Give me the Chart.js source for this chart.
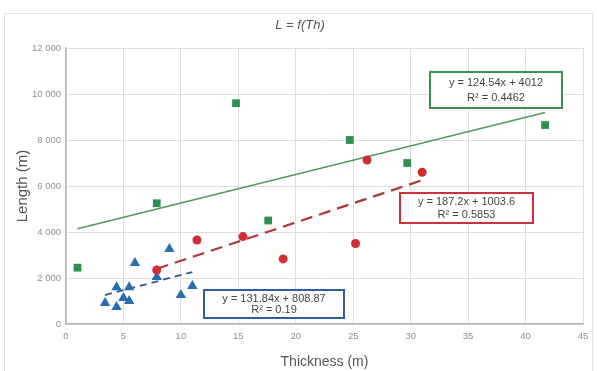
<!DOCTYPE html>
<html>
<head>
<meta charset="utf-8">
<script src="https://cdn.jsdelivr.net/npm/chart.js@4/dist/chart.umd.min.js"></script>
<style>
    body { margin: 0; background: #fff; }
    #wrap { position: relative; width: 597px; height: 371px; }
</style>
</head>
<body>
<div id="wrap"><canvas id="chart" width="597" height="371"></canvas></div>
<script>
// valeurs
const greenX = [1.0, 7.9, 14.8, 17.6, 24.7, 29.7, 41.7];
const greenY = [2450, 5250, 9600, 4500, 8000, 7000, 8650];

const redX = [7.9, 11.4, 15.4, 18.9, 25.2, 26.2, 31.0];
const redY = [2350, 3650, 3800, 2830, 3500, 7130, 6600];

const blueX = [3.4, 4.4, 4.4, 5.0, 5.5, 5.5, 6.0, 7.9, 9.0, 10.0, 11.0];
const blueY = [910, 1600, 740, 1130, 1600, 1000, 2650, 2040, 3260, 1260, 1650];

// tendances (extrémités)
const greenTrendX = [1.0, 41.7];
const greenTrendY = [4140, 9200];
const redTrendX = [7.9, 31.0];
const redTrendY = [2400, 6250];
const blueTrendX = [3.4, 11.0];
const blueTrendY = [1260, 2260];

const xTicks = [0, 5, 10, 15, 20, 25, 30, 35, 40, 45];
const yTicks = [0, 2000, 4000, 6000, 8000, 10000, 12000];

const equations = [
    { lines: ['y = 124.54x + 4012', 'R\u00b2 = 0.4462'], color: '#3f8f4f', box: [430, 72, 132, 36] },
    { lines: ['y = 187.2x + 1003.6', 'R\u00b2 = 0.5853'], color: '#c8323c', box: [400, 193, 133, 30] },
    { lines: ['y = 131.84x + 808.87', 'R\u00b2 = 0.19'], color: '#2c5f9c', box: [204, 290, 140, 28] }
];

function pts(xs, ys) {
    return xs.map((x, i) => ({ x: x, y: ys[i] }));
}

function fmtThousands(v) {
    return String(v).replace(/\B(?=(\d{3})+(?!\d))/g, ' ');
}

const GREEN = '#2f8f4e';
const RED = '#cf2f33';
const BLUE = '#2a6db0';
const FONT = '"Liberation Sans", Arial, sans-serif';

// cadre + titre + étiquettes d'équation
const extras = {
    id: 'extras',
    beforeDraw(chart) {
        const ctx = chart.ctx;
        ctx.save();
        ctx.strokeStyle = '#e4e4e4';
        ctx.lineWidth = 1;
        ctx.strokeRect(4.5, 13.5, 588, 370);
        ctx.restore();
    },
    afterDraw(chart) {
        const ctx = chart.ctx;
        ctx.save();
        ctx.fillStyle = '#555';
        ctx.font = 'italic 13px ' + FONT;
        ctx.textAlign = 'center';
        ctx.textBaseline = 'middle';
        ctx.fillText('L = f(Th)', 300, 25);

        equations.forEach(function (eq) {
            const b = eq.box;
            ctx.fillStyle = '#fff';
            ctx.fillRect(b[0], b[1], b[2], b[3]);
            ctx.strokeStyle = eq.color;
            ctx.lineWidth = 2;
            ctx.strokeRect(b[0], b[1], b[2], b[3]);
            ctx.fillStyle = '#444';
            ctx.font = '11px ' + FONT;
            const cx = b[0] + b[2] / 2;
            const step = b[3] / 2;
            ctx.fillText(eq.lines[0], cx, b[1] + step * 0.55 + 1);
            ctx.fillText(eq.lines[1], cx, b[1] + step * 1.45);
        });
        ctx.restore();
    }
};

const ctx = document.getElementById('chart').getContext('2d');
const myChart = new Chart(ctx, {
    type: 'scatter',
    data: {
        datasets: [
            {
                label: 'trend green',
                data: pts(greenTrendX, greenTrendY),
                showLine: true,
                borderColor: '#4f9a5a',
                borderWidth: 1.5,
                pointRadius: 0,
                order: 5
            },
            {
                label: 'trend red',
                data: pts(redTrendX, redTrendY),
                showLine: true,
                borderColor: '#b0363f',
                borderWidth: 2.2,
                borderDash: [12, 7],
                pointRadius: 0,
                order: 5
            },
            {
                label: 'trend blue',
                data: pts(blueTrendX, blueTrendY),
                showLine: true,
                borderColor: '#2f5a85',
                borderWidth: 1.8,
                borderDash: [7, 5],
                pointRadius: 0,
                order: 5
            },
            {
                label: 'green',
                data: pts(greenX, greenY),
                pointStyle: 'rect',
                pointRadius: 5.5,
                backgroundColor: GREEN,
                borderColor: GREEN,
                borderWidth: 0,
                order: 1
            },
            {
                label: 'red',
                data: pts(redX, redY),
                pointStyle: 'circle',
                pointRadius: 4.5,
                backgroundColor: RED,
                borderColor: RED,
                borderWidth: 0,
                order: 1
            },
            {
                label: 'blue',
                data: pts(blueX, blueY),
                pointStyle: 'triangle',
                pointRadius: 6,
                backgroundColor: BLUE,
                borderColor: BLUE,
                borderWidth: 0,
                order: 1
            }
        ]
    },
    options: {
        responsive: false,
        animation: false,
        layout: {
            padding: { top: 48, right: 14, left: 0, bottom: 0 }
        },
        scales: {
            x: {
                type: 'linear',
                min: 0,
                max: 45,
                afterBuildTicks: function (scale) {
                    scale.ticks = xTicks.map(v => ({ value: v }));
                },
                afterFit: function (scale) {
                    scale.height = 47;
                },
                grid: {
                    color: '#dedede',
                    lineWidth: 1,
                    drawTicks: false
                },
                border: { color: '#b5b5b5', width: 1.5 },
                ticks: {
                    padding: 7,
                    color: '#8f8f8f',
                    font: { size: 9.5, family: FONT },
                    maxRotation: 0
                },
                title: {
                    display: true,
                    text: 'Thickness (m)',
                    color: '#555',
                    font: { size: 14, family: FONT },
                    padding: { top: 4, bottom: 0 }
                }
            },
            y: {
                type: 'linear',
                min: 0,
                max: 12000,
                afterBuildTicks: function (scale) {
                    scale.ticks = yTicks.map(v => ({ value: v }));
                },
                afterFit: function (scale) {
                    scale.width = 66;
                },
                grid: {
                    color: '#dedede',
                    lineWidth: 1,
                    drawTicks: false
                },
                border: { color: '#b5b5b5', width: 1.5 },
                ticks: {
                    padding: 5,
                    color: '#8f8f8f',
                    font: { size: 9.5, family: FONT },
                    callback: function (value) {
                        return fmtThousands(value);
                    }
                },
                title: {
                    display: true,
                    text: 'Length (m)',
                    color: '#555',
                    font: { size: 15, family: FONT },
                    padding: { top: 14, bottom: 2 }
                }
            }
        },
        plugins: {
            legend: { display: false },
            tooltip: { enabled: false }
        }
    },
    plugins: [extras]
});
</script>
</body>
</html>
